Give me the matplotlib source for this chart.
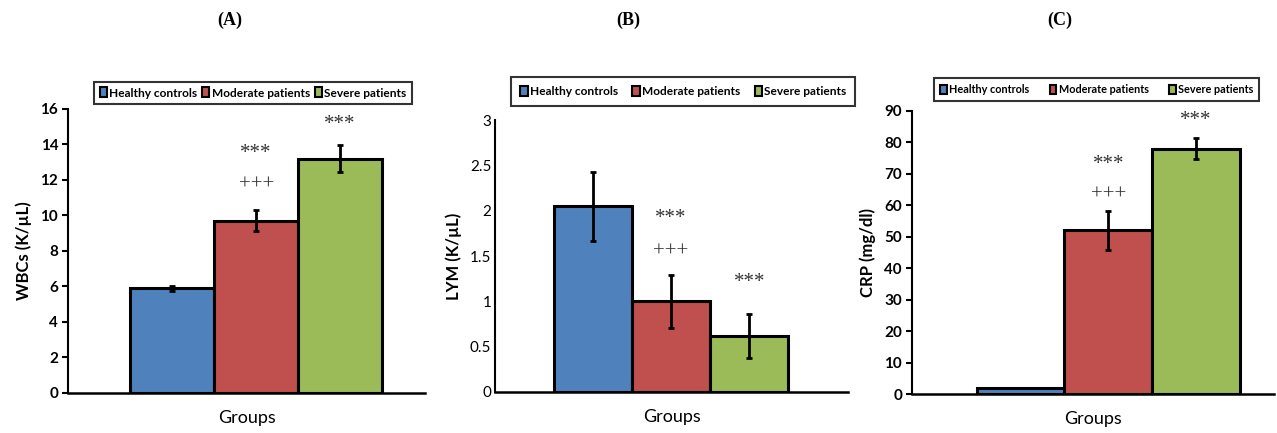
import matplotlib
matplotlib.use('Agg')
import matplotlib.pyplot as plt
from matplotlib.patches import Patch

plt.rcParams['font.family'] = ['Lato', 'DejaVu Sans']

groups = ['Healthy controls', 'Moderate patients', 'Severe patients']
colors = ['#4F81BD', '#C0504D', '#9BBB59']

# panel A: WBCs
wbc_mean = [5.9, 9.7, 13.2]
wbc_err = [0.15, 0.6, 0.75]
# panel B: LYM
lym_mean = [2.05, 1.0, 0.62]
lym_err = [0.38, 0.29, 0.24]
# panel C: CRP
crp_mean = [2.0, 52.0, 78.0]
crp_err = [0.0, 6.2, 3.3]

# significance marks: (group index, text, y)
wbc_marks = [(1, '***', 13.5), (1, '+++', 11.7), (2, '***', 15.1)]
lym_marks = [(1, '***', 1.91), (1, '+++', 1.54), (2, '***', 1.21)]
crp_marks = [(1, '***', 73), (1, '+++', 63.3), (2, '***', 86.8)]

panels = [
    dict(title='(A)', tx=230, rect=[0.0532, 0.0924, 0.280, 0.656], mean=wbc_mean, err=wbc_err,
         marks=wbc_marks, ylim=16, step=2, ylabel='WBCs (K/µL)', start=0.174, width=0.235,
         tickbold=True, yticks=True, leg=(0.518, 1.056), lfs=8.6, colsp=0.4, bpad=0.45),
    dict(title='(B)', tx=628, rect=[0.388, 0.0947, 0.276, 0.628], mean=lym_mean, err=lym_err,
         marks=lym_marks, ylim=3, step=0.5, ylabel='LYM (K/µL)', start=0.165, width=0.222,
         tickbold=False, yticks=False, leg=(0.533, 1.105), lfs=8.6, colsp=1.2, bpad=0.75),
    dict(title='(C)', tx=1060, rect=[0.714, 0.090, 0.284, 0.654], mean=crp_mean, err=crp_err,
         marks=crp_marks, ylim=90, step=10, ylabel='CRP (mg/dl)', start=0.179, width=0.242,
         tickbold=True, yticks=True, leg=(0.51, 1.076), lfs=7.8, colsp=1.9, bpad=0.55),
]

fig = plt.figure(figsize=(12.77, 4.33), dpi=100)

for p in panels:
    ax = fig.add_axes(p['rect'])
    w = p['width']
    xs = [p['start'] + w / 2 + i * w for i in range(len(groups))]
    ax.bar(xs, p['mean'], width=w, color=colors, edgecolor='black', linewidth=2.2, zorder=2)
    errs = [e if e > 0 else float('nan') for e in p['err']]
    ax.errorbar(xs, p['mean'], yerr=errs, fmt='none', ecolor='black', elinewidth=2,
                capsize=2.5, capthick=2, zorder=3)
    for gi, txt, y in p['marks']:
        ax.text(xs[gi], y, txt, ha='center', va='center', fontsize=15, color='#333333',
                family='Liberation Serif')

    ax.set_xlim(0, 1)
    ax.set_ylim(0, p['ylim'])
    n = int(round(p['ylim'] / p['step']))
    ticks = [i * p['step'] for i in range(n + 1)]
    ax.set_yticks(ticks)
    ax.set_yticklabels(['%g' % t for t in ticks], fontsize=11,
                       fontweight='bold' if p['tickbold'] else 'normal')
    ax.set_xticks([])
    for s in ['top', 'right']:
        ax.spines[s].set_visible(False)
    ax.spines['left'].set_linewidth(1.5)
    ax.spines['bottom'].set_linewidth(1.8)
    ax.tick_params(axis='y', length=4 if p['yticks'] else 0, width=1.5, pad=3)
    ax.set_ylabel(p['ylabel'], fontsize=12, fontweight='bold', labelpad=6)
    ax.set_xlabel('Groups', fontsize=13, labelpad=12)

    handles = [Patch(facecolor=c, edgecolor='black', linewidth=1.5) for c in colors]
    leg = ax.legend(handles, groups, loc='center', bbox_to_anchor=p['leg'], ncol=3,
                    fontsize=p['lfs'], frameon=True, fancybox=False, edgecolor='black',
                    handlelength=0.6, handleheight=0.9, handletextpad=0.2,
                    columnspacing=p['colsp'], borderpad=p['bpad'])
    leg.get_frame().set_linewidth(1.5)
    for t in leg.get_texts():
        t.set_fontweight('bold')

    fig.text(p['tx'] / 1277, 1 - 20 / 433, p['title'], ha='center', va='center',
             fontsize=13, fontweight='bold', family='Liberation Serif')

fig.savefig('out.png', dpi=100)
